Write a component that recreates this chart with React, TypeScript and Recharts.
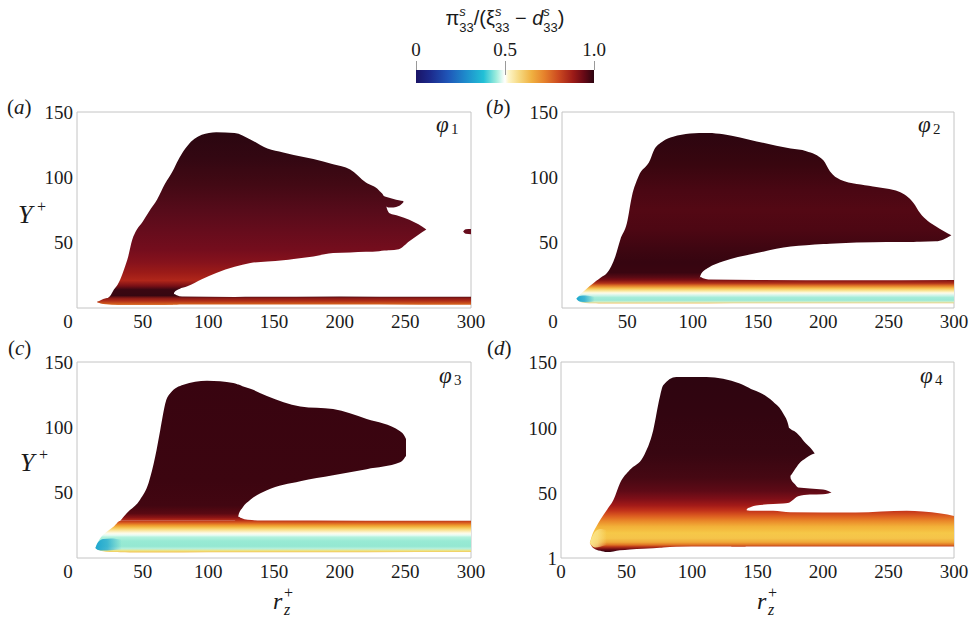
// Contours π33/(ξ33 − d33) — 4 panneaux (a)–(d), aires en bandes + dégradé vertical.
import { Area, ComposedChart, ReferenceArea, XAxis, YAxis } from "recharts";

// ---- axes ----
const X_TICKS = [0, 50, 100, 150, 200, 250, 300];
const Y_TICKS = [50, 100, 150];
const Y_TICKS_D = [1, 50, 100, 150];

// ---- (a) φ1 ----
const A_STRIP_X = [15, 18, 22, 30, 60, 72, 74, 76, 80, 120, 200, 260, 300];
const A_STRIP_LO = [4.6, 3.4, 2.8, 2.5, 2.5, 2.5, 2.5, 2.5, 2.6, 2.6, 2.6, 2.5, 2.5];
const A_STRIP_HI = [4.6, 6.0, 7.4, 8.2, 8.4, 9.5, 10.8, 9.8, 8.8, 8.5, 8.8, 8.6, 8.6];
const A_BLOB_X = [15, 20, 25, 28, 31, 33, 36, 39, 42, 45.6, 50, 55, 61, 67, 73, 74, 78, 84, 95, 106, 120, 132, 145, 157, 165, 180, 195, 208, 220, 230, 234, 236, 238, 245, 253, 260, 266];
const A_BLOB_HI = [4.6, 6, 9, 14, 18, 22, 30, 39.5, 52, 60, 66, 74, 83, 95, 105, 107, 115, 124, 132.5, 134.5, 134, 129, 122, 119, 117, 114, 110, 106, 96, 90, 84.5, 76, 72.5, 70.5, 67.6, 64, 60];
const A_BLOB_LO = [4.6, 3.4, 2.8, 2.6, 2.5, 2.5, 2.5, 2.5, 2.5, 2.5, 2.5, 2.5, 2.5, 2.5, 2.6, 11.8, 14.5, 16.6, 22, 26.8, 31.5, 34.4, 35.5, 36.5, 37.5, 39.5, 42, 42.5, 43, 43.5, 44, 44.1, 44.2, 45, 51, 56, 60];
const A_LOBE_X = [233, 237, 241, 245, 248.5];
const A_LOBE_LO = [80, 77, 77, 78, 81];
const A_LOBE_HI = [86, 84.5, 83.5, 82.5, 81.8];
const A_PIECE_X = [294, 296, 300];
const A_PIECE_LO = [58.5, 56.8, 56.5];
const A_PIECE_HI = [58.5, 60.3, 60.5];

// ---- (b) φ2 ----
const B_STRIP_X = [11, 14, 18, 24, 28, 40, 80, 104, 106, 108, 112, 150, 220, 300];
const B_STRIP_LO = [7, 4.6, 3.8, 3.6, 3.5, 3.5, 3.5, 3.5, 3.5, 3.5, 3.5, 3.6, 3.6, 3.6];
const B_STRIP_HI = [7, 10.5, 14, 19, 21.5, 21.5, 21.5, 21.5, 23.8, 22.8, 21.9, 21.5, 21.2, 21.5];
const B_TIP_X = [11, 13, 16, 20, 25];
const B_TIP_LO = [7, 5.2, 4.6, 4.4, 5];
const B_TIP_HI = [7, 9, 9.6, 9.4, 8.5];
const B_BLOB_X = [24, 30, 34.4, 40.8, 44.6, 49.7, 53.5, 58.6, 67.5, 70, 77, 85, 98, 105, 106, 109, 112, 123.5, 149, 175, 187, 200, 205, 213, 238, 258, 269, 274, 286, 292, 298];
const B_BLOB_HI = [19, 23.5, 26.8, 39.5, 52.3, 65, 85.5, 100.8, 113.5, 120, 127.5, 131, 133.5, 134, 134, 134, 134, 133, 127.5, 122, 120, 113, 104.6, 98.2, 93, 89, 80.4, 72.7, 62.5, 59, 55.6];
const B_BLOB_LO = [19, 21.5, 21.5, 21.5, 21.5, 21.5, 21.5, 21.5, 21.5, 21.5, 21.5, 21.5, 21.5, 21.5, 25, 28.8, 30.8, 35.7, 42, 47, 48, 49, 49.2, 49.6, 50.3, 50.5, 50.6, 50.7, 51, 52.5, 55.6];

// ---- (c) φ3 ----
const C_STRIP_X = [14, 17.8, 22, 28, 33, 40, 80, 120, 122.5, 125, 130, 140, 220, 300];
const C_STRIP_LO = [7.7, 5.5, 4.8, 4.5, 4.4, 4.3, 4.3, 4.4, 4.4, 4.4, 4.4, 4.4, 4.4, 4.5];
const C_STRIP_HI = [7.7, 15.3, 19.5, 24.2, 28.6, 28.6, 28.6, 28.6, 31.8, 30.6, 29.2, 28.7, 28.6, 28.6];
const C_TIP_X = [14, 16, 20, 26, 34];
const C_TIP_LO = [7.7, 6.2, 5.8, 6, 6.5];
const C_TIP_HI = [7.7, 12, 14.5, 15, 14];
const C_BLOB_X = [33, 38, 48, 54.5, 59.6, 63.4, 67.7, 71, 81, 99, 119, 122, 123, 126, 132, 144.6, 170, 195, 220.6, 246, 249, 250.5];
const C_BLOB_HI = [28.6, 34.4, 44.6, 57.4, 77.8, 98, 120, 126, 132.6, 135.7, 134, 133, 132.7, 131.5, 129.5, 124, 116, 114, 106.4, 97, 94, 91];
const C_BLOB_LO = [28.6, 28.6, 28.6, 28.6, 28.6, 28.6, 28.6, 28.6, 28.6, 28.6, 28.6, 28.6, 33, 38.5, 44.6, 51.8, 58.7, 63.3, 68, 73.2, 76, 78];

// ---- (d) φ4 ----
const D_BODY_X = [22, 23.4, 27, 30, 35, 40, 45, 52.6, 62.8, 70.4, 75.5, 78, 88, 111, 136.5, 141, 141.8, 145, 149, 162, 169.5, 174, 175.5, 178.6, 181, 190, 200, 204, 206.5];
const D_BODY_HI = [12.4, 17.4, 25, 30, 37.5, 45, 57.8, 68, 78, 98.2, 123.5, 132.3, 138.6, 138.6, 133.6, 131.5, 131.1, 129.5, 128, 119.7, 111, 100, 61, 57, 54.5, 53.8, 53, 52, 50.8];
const D_BODY_LO = [12.4, 10, 7.3, 6.5, 5.5, 6, 6.8, 7.5, 8, 8.5, 8.8, 9, 9.5, 9.8, 9.8, 9.8, 38, 39.7, 40.9, 42, 42.5, 43, 44, 46.5, 48, 49.3, 49.5, 50, 50.8];
const D_LOBE_X = [174, 176, 178, 182, 187, 191, 193.7];
const D_LOBE_LO = [62.8, 64.5, 67.5, 73, 77, 79.5, 80.5];
const D_LOBE_HI = [100, 98.5, 97.5, 94, 88, 84, 80.5];
const D_STRIP_X = [130, 139, 141.5, 144, 150, 162, 175, 225, 264, 276, 290, 300];
const D_STRIP_LO = [9.8, 9.8, 9.8, 9.8, 9.8, 9.8, 9.8, 9.8, 9.8, 9.8, 9.8, 9.8];
const D_STRIP_HI = [36.5, 36.7, 37.3, 37.0, 36.9, 36.9, 35.8, 35.6, 36.9, 36.4, 34.8, 33];
const D_TIP_X = [22, 23.5, 26, 30, 35];
const D_TIP_LO = [12.4, 10.5, 9, 9.5, 11];
const D_TIP_HI = [12.4, 16.5, 21, 23, 22];

// ---- dégradés (Y+ -> couleur), un par panneau ----
const STOPS_A: [number, string][] = [
  [150, "#2a0610"], [135, "#2a0610"], [115, "#330712"], [95, "#420914"], [75, "#560b1a"],
  [60, "#650c1c"], [45, "#740d1d"], [35, "#86121c"], [27, "#9c1b18"], [21, "#b0261a"],
  [17, "#7a1016"], [14, "#3a0712"], [9.5, "#360711"], [7.5, "#8a1a16"], [5.5, "#b02c18"],
  [3, "#d4601e"], [0, "#d4601e"],
];
const STOPS_B: [number, string][] = [
  [150, "#2c0510"], [135, "#2c0510"], [110, "#38060f"], [90, "#4a0713"], [75, "#530814"],
  [60, "#4d0713"], [45, "#3e0611"], [35, "#360510"], [27, "#3a0510"], [23.5, "#5a0a14"],
  [21.5, "#7a0e14"], [19, "#b03018"], [17, "#e27a28"], [15, "#f5c050"], [13, "#fbeaa0"],
  [11.5, "#fffbe8"], [10, "#d8f6ec"], [8, "#a4ecd8"], [6, "#9ae8d6"], [4.6, "#d4f0c8"],
  [3.5, "#f0c060"], [0, "#f0c060"],
];
const STOPS_C: [number, string][] = [
  [150, "#380410"], [136, "#380410"], [60, "#3c0510"], [40, "#420611"], [34, "#5a0912"],
  [31, "#8a1415"], [29, "#b42a18"], [27, "#d85c20"], [25, "#ee9a2c"], [23, "#f6c858"],
  [21, "#fbe6a0"], [19, "#fffbe8"], [17.5, "#e8fcf4"], [16, "#b4f2de"], [13, "#98ead4"],
  [9, "#94e8d2"], [7, "#b8f0dc"], [5.5, "#f2e27a"], [4.3, "#f0c050"], [0, "#f0c050"],
];
const STOPS_D: [number, string][] = [
  [150, "#2e0510"], [139, "#2e0510"], [110, "#320510"], [80, "#380611"], [62, "#460813"],
  [52, "#5e0a16"], [46, "#7e0f18"], [41, "#a21a18"], [37, "#c2321a"], [33, "#dc5c20"],
  [29, "#ea8a2a"], [25, "#f2b038"], [20, "#f6c848"], [16, "#f5c44a"], [13, "#efa838"],
  [11, "#e07424"], [9.5, "#b83418"], [7.5, "#6a0a14"], [5.5, "#2e0510"], [1, "#2e0510"],
];

type Band = { x: number[]; lo: number[]; hi: number[] };
const band = (x: number[], lo: number[], hi: number[]): Band => ({ x, lo, hi });
const rows = (b: Band) => b.x.map((x, i) => ({ x, r: [b.lo[i], b.hi[i]] }));

const SERIF = "Liberation Serif";
const SANS = "Liberation Sans";
const INK = "#1a1a1a";
const M_TOP = 22;
const PLOT_H = 196;
const Y_W = 57;
const X_H = 30;

function Panel({
  id, left, top, mLeft, plotW, yMin, yTicks, bands, stops, zeroShift, tip, tipColor,
}: {
  id: string; left: number; top: number; mLeft: number; plotW: number; yMin: number;
  yTicks: number[]; bands: Band[]; stops: [number, string][]; zeroShift: number; tip?: Band; tipColor?: string;
}) {
  const height = M_TOP + PLOT_H + X_H + 2;
  const xTick = (p: any) => (
    <text x={p.x + (p.payload.value === 0 ? zeroShift : 0)} y={p.y} dy="0.71em" textAnchor="middle" fill={INK} style={{ fontSize: 19, fontFamily: SERIF }}>
      {p.payload.value}
    </text>
  );
  const yTick = (p: any) => (
    <text x={p.x} y={p.y} dy="0.355em" textAnchor="end" fill={INK} style={{ fontSize: 19, fontFamily: SERIF }}>
      {p.payload.value}
    </text>
  );
  return (
    <div style={{ position: "absolute", left, top }}>
      <ComposedChart width={490} height={height} margin={{ top: M_TOP, left: mLeft, right: 490 - mLeft - Y_W - plotW, bottom: 2 }}>
        <defs>
          <linearGradient id={id} gradientUnits="userSpaceOnUse" x1={0} y1={M_TOP} x2={0} y2={M_TOP + PLOT_H}>
            {stops.map(([v, c]) => (
              <stop key={v} offset={(150 - v) / (150 - yMin)} stopColor={c} />
            ))}
          </linearGradient>
          {tipColor && (
            <linearGradient id={`${id}-tip`} x1={0} y1={0} x2={1} y2={0}>
              <stop offset={0} stopColor={tipColor} stopOpacity={1} />
              <stop offset={0.45} stopColor={tipColor} stopOpacity={0.75} />
              <stop offset={1} stopColor={tipColor} stopOpacity={0} />
            </linearGradient>
          )}
        </defs>
        <XAxis type="number" dataKey="x" domain={[0, 300]} ticks={X_TICKS} allowDataOverflow height={X_H} tickLine={false} axisLine={false} tickSize={0} tickMargin={7} tick={xTick} interval={0} />
        <YAxis type="number" domain={[yMin, 150]} ticks={yTicks} allowDataOverflow width={Y_W} tickLine={false} axisLine={false} tickSize={0} tickMargin={4} interval={0} tick={yTick} />
        <ReferenceArea x1={0} x2={300} y1={yMin} y2={150} fill="none" stroke="#c4c4c4" strokeWidth={1} />
        {bands.map((b, i) => (
          <Area key={i} data={rows(b)} dataKey="r" type="monotone" stroke="none" fill={`url(#${id})`} fillOpacity={1}
            isAnimationActive={false} dot={false} activeDot={false} />
        ))}
        {tip && (
          <Area data={rows(tip)} dataKey="r" type="monotone" stroke="none" fill={`url(#${id}-tip)`} fillOpacity={1}
            isAnimationActive={false} dot={false} activeDot={false} />
        )}
      </ComposedChart>
    </div>
  );
}

// exposant / indice empilés (s au-dessus, 33 en dessous)
function SS({ sup, sub }: { sup: string; sub: string }) {
  return (
    <span style={{ fontSize: 13, lineHeight: 1 }}>
      <span style={{ position: "relative", top: -9, fontStyle: "italic" }}>{sup}</span>
      <span style={{ position: "relative", top: 7, marginLeft: -6.5 }}>{sub}</span>
    </span>
  );
}

function Txt({ left, top, size = 21, font = SERIF, italic = false, children }: { left: number; top: number; size?: number; font?: string; italic?: boolean; children: any }) {
  return (
    <div style={{ position: "absolute", left, top, fontFamily: font, fontSize: size, color: INK, lineHeight: 1, whiteSpace: "nowrap", fontStyle: italic ? "italic" : "normal" }}>
      {children}
    </div>
  );
}

function Phi({ left, top, n }: { left: number; top: number; n: number }) {
  return (
    <>
      <Txt left={left} top={top} size={23} italic>φ</Txt>
      <Txt left={left + 15} top={top + 9} size={15}>{n}</Txt>
    </>
  );
}

function YLab({ left, top }: { left: number; top: number }) {
  return (
    <>
      <Txt left={left} top={top} size={26} italic>Y</Txt>
      <Txt left={left + 19} top={top - 3} size={16}>+</Txt>
    </>
  );
}

function RLab({ left, top }: { left: number; top: number }) {
  return (
    <>
      <Txt left={left} top={top} size={24} italic>r</Txt>
      <Txt left={left + 11} top={top - 4} size={16}>+</Txt>
      <Txt left={left + 11} top={top + 13} size={16} italic>z</Txt>
    </>
  );
}

const CBAR =
  "linear-gradient(to right, #1a1466 0%, #1c2a8c 8%, #1f56b8 18%, #1e8ccc 28%, #22c0d6 38%, #9cecdc 45%, #f0fcf6 49%, #ffffff 50%, #fdf5c8 52%, #f6d880 58%, #f0b040 65%, #e6822c 72%, #cc4a20 80%, #9e1c18 88%, #6a0a16 94%, #2c0410 100%)";

export default function App() {
  return (
    <div style={{ position: "absolute", left: 0, top: 0, width: 972, height: 619, background: "#fff", overflow: "hidden" }}>
      {/* barre de couleur */}
      <div style={{ position: "absolute", left: 385, top: 8, width: 240, textAlign: "center", fontFamily: SANS, fontSize: 20, color: INK, lineHeight: 1 }}>
        π<SS sup="s" sub="33" />/(ξ<SS sup="s" sub="33" /> − <i>d</i>
        <SS sup="s" sub="33" />)
      </div>
      {[
        { v: "0", x: 416 },
        { v: "0.5", x: 505 },
        { v: "1.0", x: 594 },
      ].map((t) => (
        <div key={t.v}>
          <div style={{ position: "absolute", left: t.x - 30, width: 60, top: 40, textAlign: "center", fontFamily: SERIF, fontSize: 19, color: INK, lineHeight: 1 }}>{t.v}</div>
          <div style={{ position: "absolute", left: t.x, top: 61, width: 1, height: 9, background: "#9a9a9a" }} />
        </div>
      ))}
      <div style={{ position: "absolute", left: 416, top: 70, width: 178, height: 13, background: CBAR }} />
      <div style={{ position: "absolute", left: 505, top: 70, width: 1, height: 5, background: "#9a9a9a" }} />

      <Panel id="ga" left={0} top={90} mLeft={20} plotW={394} yMin={0} yTicks={Y_TICKS} stops={STOPS_A} zeroShift={-9}
        bands={[band(A_BLOB_X, A_BLOB_LO, A_BLOB_HI), band(A_LOBE_X, A_LOBE_LO, A_LOBE_HI), band(A_PIECE_X, A_PIECE_LO, A_PIECE_HI), band(A_STRIP_X, A_STRIP_LO, A_STRIP_HI)]} />
      <Panel id="gb" left={490} top={90} mLeft={15} plotW={392} yMin={0} yTicks={Y_TICKS} stops={STOPS_B} zeroShift={-9}
        bands={[band(B_BLOB_X, B_BLOB_LO, B_BLOB_HI), band(B_STRIP_X, B_STRIP_LO, B_STRIP_HI)]}
        tip={band(B_TIP_X, B_TIP_LO, B_TIP_HI)} tipColor="#1ea6cf" />
      <Panel id="gc" left={0} top={340} mLeft={20} plotW={394} yMin={0} yTicks={Y_TICKS} stops={STOPS_C} zeroShift={-9}
        bands={[band(C_BLOB_X, C_BLOB_LO, C_BLOB_HI), band(C_STRIP_X, C_STRIP_LO, C_STRIP_HI)]}
        tip={band(C_TIP_X, C_TIP_LO, C_TIP_HI)} tipColor="#1ea6cf" />
      <Panel id="gd" left={490} top={340} mLeft={14} plotW={393} yMin={1} yTicks={Y_TICKS_D} stops={STOPS_D} zeroShift={0}
        bands={[band(D_BODY_X, D_BODY_LO, D_BODY_HI), band(D_LOBE_X, D_LOBE_LO, D_LOBE_HI), band(D_STRIP_X, D_STRIP_LO, D_STRIP_HI)]}
        tip={band(D_TIP_X, D_TIP_LO, D_TIP_HI)} tipColor="#fbe68c" />

      {/* libellés */}
      <Txt left={7} top={97}>(<i>a</i>)</Txt>
      <Txt left={486} top={97}>(<i>b</i>)</Txt>
      <Txt left={8} top={338}>(<i>c</i>)</Txt>
      <Txt left={487} top={338}>(<i>d</i>)</Txt>
      <YLab left={18} top={202} />
      <YLab left={20} top={450} />
      <RLab left={273} top={589} />
      <RLab left={757} top={589} />
      <Phi left={436} top={113} n={1} />
      <Phi left={918} top={113} n={2} />
      <Phi left={439} top={364} n={3} />
      <Phi left={920} top={364} n={4} />
    </div>
  );
}
